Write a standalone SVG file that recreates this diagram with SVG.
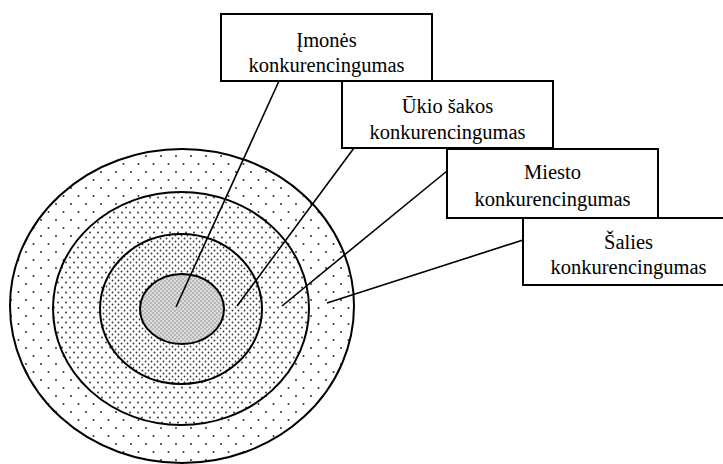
<svg xmlns="http://www.w3.org/2000/svg" width="723" height="464" viewBox="0 0 723 464">
<defs>
<style>
.box{fill:#fff;stroke:#000;stroke-width:2}
.ring{stroke:#000;stroke-width:2}
.lead{stroke:#000;stroke-width:1.6;fill:none}
.d{fill:#333}
</style>
<pattern id="p1" width="15" height="16" patternUnits="userSpaceOnUse">
<rect width="15" height="16" fill="#fff"/>
<circle class="d" cx="3.5" cy="4" r="1"/>
<circle class="d" cx="11" cy="12" r="1"/>
</pattern>
<pattern id="p2" width="8" height="10" patternUnits="userSpaceOnUse">
<rect width="8" height="10" fill="#fff"/>
<circle class="d" cx="2" cy="2.5" r="0.95"/>
<circle class="d" cx="6" cy="7.5" r="0.95"/>
</pattern>
<pattern id="p3" width="6" height="6" patternUnits="userSpaceOnUse">
<rect width="6" height="6" fill="#fff"/>
<circle class="d" cx="1.5" cy="1.5" r="0.9"/>
<circle class="d" cx="4.5" cy="4.5" r="0.9"/>
</pattern>
<pattern id="p4" width="4" height="4" patternUnits="userSpaceOnUse">
<rect width="4" height="4" fill="#dcdcdc"/>
<circle cx="1" cy="1" r="0.7" fill="#7a7a7a"/>
<circle cx="3" cy="3" r="0.7" fill="#7a7a7a"/>
</pattern>
</defs>
<rect width="723" height="464" fill="#fff"/>
<g id="rings">
<ellipse id="salis" class="ring" cx="182" cy="306" rx="172" ry="157" fill="url(#p1)"/>
<ellipse id="miestas" class="ring" cx="181" cy="308.5" rx="128" ry="116.5" fill="url(#p2)"/>
<ellipse id="sakos" class="ring" cx="181" cy="309" rx="81" ry="75" fill="url(#p3)"/>
<ellipse id="imone" class="ring" cx="182" cy="309" rx="42" ry="35" fill="url(#p4)"/>
</g>
<g id="connectors">
<line class="lead" x1="279" y1="81" x2="176" y2="307"/>
<line class="lead" x1="354" y1="148" x2="237" y2="306"/>
<line class="lead" x1="447" y1="171" x2="282" y2="306"/>
<line class="lead" x1="523" y1="240" x2="327" y2="303"/>
</g>
<g font-family="'Liberation Serif', 'Times New Roman', serif" font-size="20.5" text-anchor="middle" fill="#000">
<g id="box1">
<rect class="box" x="221" y="14" width="211" height="67"/>
<text x="326.5" y="46.5">Įmonės</text>
<text x="326.5" y="72">konkurencingumas</text>
</g>
<g id="box2">
<rect class="box" x="342" y="81" width="211" height="67"/>
<text x="447.5" y="112.5">Ūkio šakos</text>
<text x="447.5" y="138.5">konkurencingumas</text>
</g>
<g id="box3">
<rect class="box" x="447" y="149" width="211" height="69"/>
<text x="552.5" y="179">Miesto</text>
<text x="552.5" y="205.5">konkurencingumas</text>
</g>
<g id="box4">
<rect class="box" x="523" y="218" width="211" height="67"/>
<text x="628.5" y="248.5">Šalies</text>
<text x="628.5" y="273.5">konkurencingumas</text>
</g>
</g>
</svg>
